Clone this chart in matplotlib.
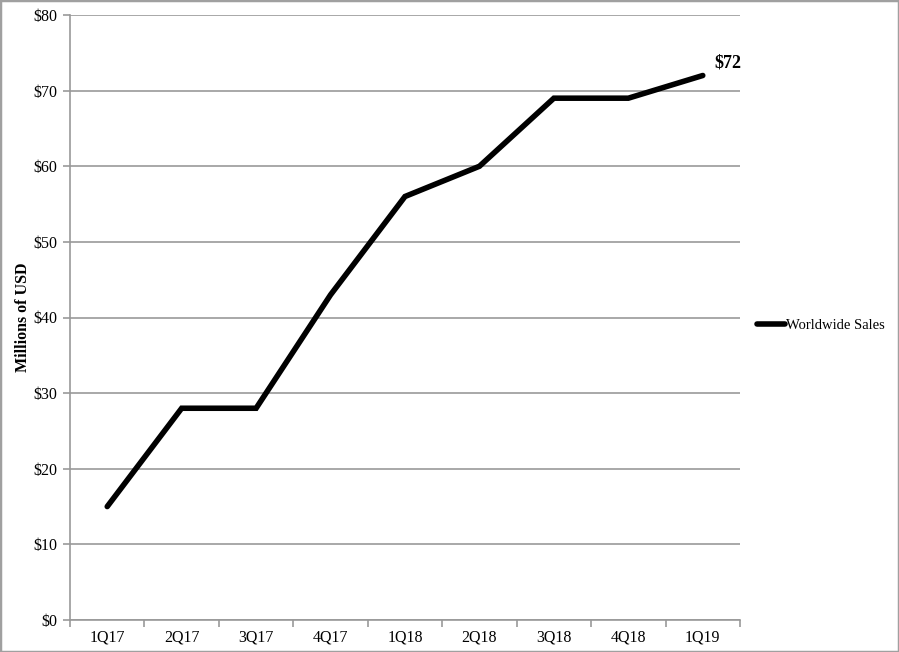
import matplotlib
matplotlib.use("Agg")
import matplotlib.pyplot as plt
from matplotlib.patches import Rectangle

quarters = ["1Q17", "2Q17", "3Q17", "4Q17", "1Q18", "2Q18", "3Q18", "4Q18", "1Q19"]
sales = [15, 28, 28, 43, 56, 60, 69, 69, 72]
yticks = [0, 10, 20, 30, 40, 50, 60, 70, 80]
ytick_labels = ["$" + str(v) for v in yticks]
series_name = "Worldwide Sales"
last_label = "$72"

plt.rcParams['font.family'] = ['Liberation Serif', 'DejaVu Serif']

fig = plt.figure(figsize=(8.99, 6.52), dpi=100)
W, H = 899, 652
ax = fig.add_axes([70 / W, 1 - 620 / H, 670 / W, (620 - 15) / H])

x = list(range(len(quarters)))
ax.plot(x, sales, color="black", linewidth=4, solid_capstyle="round",
        solid_joinstyle="miter", zorder=3, label=series_name)

ax.set_xlim(-0.5, len(quarters) - 0.5)
ax.set_ylim(0, 80)
ax.set_yticks(yticks)
ax.set_yticklabels(ytick_labels, fontsize=11.5)
ax.set_xticks(x)
ax.set_xticklabels(quarters, fontsize=11.5)
ax.set_xticks([i + 0.5 for i in range(-1, len(quarters))], minor=True)
ax.tick_params(axis='x', which='major', length=0, pad=7)
ax.tick_params(axis='x', which='minor', length=5, color="#999999", width=1.2, direction='out')
ax.tick_params(axis='y', length=5, color="#999999", width=1.2, pad=4)

ax.grid(axis='y', color="#999999", linewidth=1.2, zorder=0)
ax.set_axisbelow(True)
for s in ["top", "right"]:
    ax.spines[s].set_visible(False)
for s in ["left", "bottom"]:
    ax.spines[s].set_color("#999999")
    ax.spines[s].set_linewidth(1.2)

ax.set_ylabel("Millions of USD", fontsize=11.5, fontweight="bold", labelpad=2)

ax.annotate(last_label, xy=(x[-1], sales[-1]), xytext=(8, 3),
            textcoords="offset points", fontsize=13, fontweight="bold",
            ha="left", va="bottom")

leg = fig.legend(loc="center left", bbox_to_anchor=(744 / W, 1 - 325 / H),
                 frameon=False, fontsize=10.5, handlelength=1.9, handletextpad=0.05)

fig.patches.append(Rectangle((0, 0), 1, 1, transform=fig.transFigure,
                             fill=False, edgecolor="#a0a0a0", linewidth=2.5))

fig.savefig("out.png", dpi=100)
